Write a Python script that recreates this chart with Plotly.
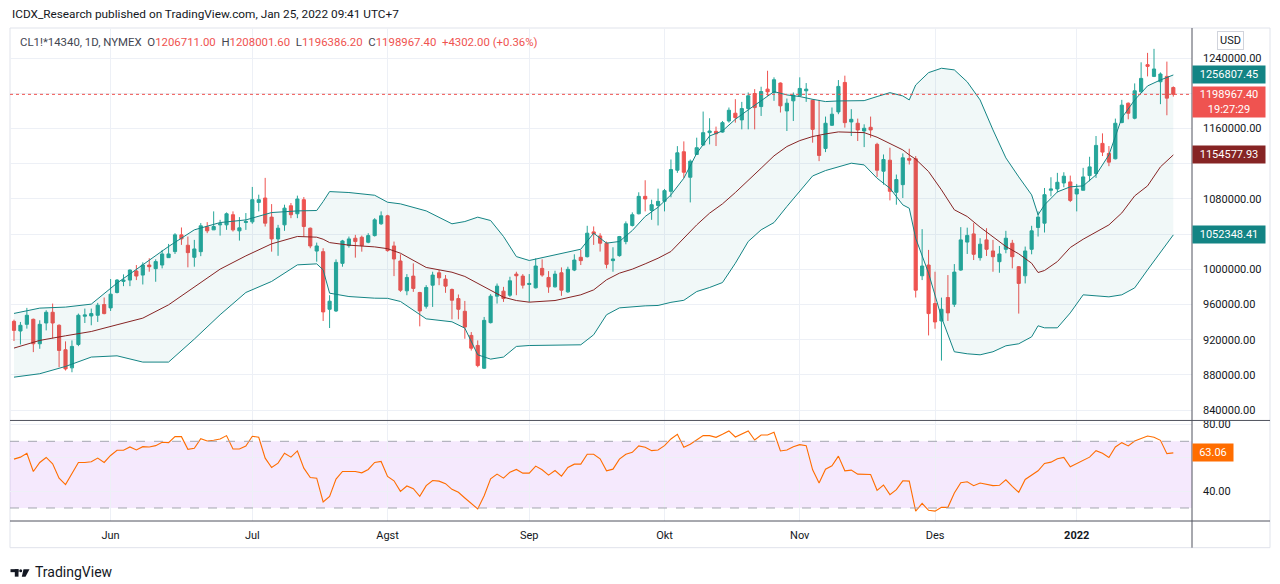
import pandas as pd
import plotly.graph_objects as go

# Hari bursa NYMEX (hari libur AS tidak punya candle)
libur = ['2021-05-31', '2021-07-05', '2021-09-06', '2021-11-25', '2021-12-24', '2022-01-17']
tanggal = pd.bdate_range('2021-05-10', '2022-01-25', freq='C', holidays=libur).strftime('%Y-%m-%d').tolist()

bulan_tick = ['2021-06-01', '2021-07-01', '2021-08-02', '2021-09-01',
              '2021-10-01', '2021-11-01', '2021-12-01', '2022-01-03']
bulan_label = ['Jun', 'Jul', 'Agst', 'Sep', 'Okt', 'Nov', 'Des', '<b>2022</b>']

# label harga di sumbu kanan (yang tertutup kotak label dikosongkan)
harga_tick = [840000, 880000, 920000, 960000, 1000000, 1040000, 1080000, 1120000, 1160000, 1200000, 1240000]
harga_teks = ['840000.00', '880000.00', '920000.00', '960000.00', '1000000.00', '',
              '1080000.00', '', '1160000.00', '', '1240000.00']

# OHLC harian CL1! * 14340
harga_open = [
    940900, 929900, 937500, 943200, 915400, 939000, 951200, 936400, 908600, 888000,
    914600, 946700, 947000, 947800, 960000, 956200, 973700, 986300, 987800, 998100,
    993500, 1004900, 1000800, 1004900, 1013300, 1020200, 1039200, 1027400, 1013700, 1020100,
    1048300, 1044900, 1050600, 1050600, 1062100, 1043800, 1053300, 1054000, 1076100, 1081100,
    1059400, 1034600, 1050600, 1072300, 1063200, 1079200, 1046800, 1020800, 1020100, 954600,
    952700, 1006800, 1027000, 1035400, 1036500, 1030800, 1038400, 1051800, 1060900, 1026600,
    1009500, 975600, 992300, 973700, 958000, 982000, 996100, 988900, 977100, 966800,
    952300, 924900, 913500, 887600, 939400, 969500, 975200, 970600, 994600, 992300,
    982800, 979000, 1001100, 990800, 980100, 996100, 974400, 999200, 1013700, 1014400,
    1042600, 1038000, 1029700, 1009900, 1015600, 1031600, 1049900, 1063200, 1083000, 1067000,
    1072700, 1077300, 1088700, 1112700, 1133700, 1104700, 1130600, 1141300, 1155400, 1156900,
    1156100, 1168700, 1177500, 1169900, 1182800, 1199900, 1185100, 1204900, 1201100, 1211800,
    1180100, 1191600, 1197300, 1203000, 1192300, 1151600, 1137500, 1163800, 1179000, 1212500,
    1167600, 1166100, 1157300, 1161500, 1142100, 1111600, 1124100, 1087600, 1096300, 1126100,
    1125700, 992700, 1004900, 961100, 941300, 968000, 960300, 999200, 1031000, 1040300,
    1013300, 1033500, 1020900, 1008700, 1022800, 1029700, 1003000, 992700, 1022800, 1047600,
    1052500, 1089900, 1091400, 1098200, 1099400, 1085700, 1089900, 1106600, 1108900, 1143200,
    1131800, 1125700, 1166900, 1188900, 1171800, 1201800, 1232700, 1219400, 1213300, 1219400,
    1206711.00]
harga_high = [
    942800, 940200, 956200, 944000, 942100, 953500, 961100, 937500, 918100, 919200,
    949700, 955400, 955400, 961900, 968000, 989000, 989000, 994300, 1000000, 1004900,
    1008000, 1012600, 1011400, 1022100, 1028900, 1041100, 1047600, 1037300, 1033500, 1052600,
    1053700, 1065900, 1056300, 1064700, 1065900, 1059400, 1064000, 1093700, 1084900, 1104000,
    1074200, 1050600, 1073500, 1075400, 1083800, 1082200, 1047500, 1030400, 1024000, 970600,
    1011300, 1033500, 1037300, 1039200, 1038400, 1041100, 1058200, 1065900, 1062000, 1031600,
    1017100, 994600, 1006800, 974400, 982000, 997300, 999200, 993500, 978200, 971400,
    964100, 928700, 919200, 945900, 971800, 983900, 980100, 991600, 997300, 994600,
    994600, 1012500, 1011400, 998000, 998400, 1002200, 1003000, 1017100, 1022100, 1049500,
    1048800, 1041100, 1031600, 1025100, 1038000, 1054500, 1064800, 1087600, 1101300, 1079200,
    1091800, 1091400, 1124900, 1140100, 1145500, 1124900, 1149700, 1179400, 1171800, 1162300,
    1168700, 1184000, 1193500, 1190400, 1201100, 1204900, 1207600, 1225800, 1218300, 1212500,
    1194200, 1201100, 1218300, 1211800, 1193500, 1192700, 1173700, 1184000, 1215200, 1220200,
    1182100, 1171400, 1164900, 1173700, 1143900, 1130600, 1138300, 1107800, 1131800, 1137100,
    1128700, 1045700, 1022100, 997300, 967900, 993500, 1006000, 1048000, 1047400, 1052600,
    1035400, 1046800, 1033500, 1026600, 1043800, 1033500, 1003800, 1025900, 1049500, 1065900,
    1092500, 1104700, 1109700, 1110400, 1106600, 1097100, 1115400, 1128000, 1151600, 1154600,
    1140200, 1171400, 1192700, 1189700, 1211400, 1235400, 1246100, 1250700, 1223900, 1236200,
    1208001.60]
harga_low = [
    918500, 914600, 932600, 905900, 909700, 930600, 921500, 888700, 885000, 883000,
    912700, 939000, 936400, 940200, 948900, 952700, 972600, 980900, 980900, 987800,
    982800, 997300, 985900, 1001100, 1013300, 1017500, 1027800, 1002300, 1003000, 1015000,
    1041100, 1044900, 1038400, 1044900, 1043000, 1032700, 1044900, 1051800, 1065900, 1048700,
    1020100, 1015400, 1043800, 1058200, 1058200, 1037300, 1024000, 1008700, 941300, 933300,
    951500, 1003000, 1024700, 1013300, 1020100, 1029700, 1037300, 1050600, 1020100, 992300,
    974400, 970600, 974400, 935200, 955400, 957300, 982000, 973300, 943200, 943200,
    921100, 907700, 888700, 886800, 938500, 961100, 963000, 968700, 970600, 978200,
    963000, 978200, 991600, 973300, 979400, 969900, 973300, 998000, 1004900, 1013500,
    1027800, 1020200, 1001100, 997300, 1014400, 1028500, 1048700, 1062500, 1065900, 1056300,
    1049900, 1065900, 1081900, 1109700, 1104000, 1076100, 1130000, 1140500, 1142100, 1140200,
    1155400, 1166800, 1166800, 1159200, 1159200, 1159200, 1174400, 1197300, 1191600, 1178300,
    1157300, 1168700, 1196500, 1190400, 1144000, 1123000, 1133300, 1163000, 1176400, 1161100,
    1151600, 1145900, 1139000, 1149700, 1105100, 1096300, 1078400, 1073500, 1081100, 1119200,
    968000, 987800, 924900, 932500, 896300, 941300, 957300, 998400, 1017500, 1010600,
    1009900, 1015200, 997300, 996100, 1018300, 1001100, 949700, 984000, 1017100, 1037300,
    1041900, 1083000, 1087600, 1093300, 1076500, 1065900, 1089900, 1100100, 1104000, 1128800,
    1117300, 1125000, 1166100, 1170600, 1170600, 1201000, 1219400, 1218600, 1187800, 1175200,
    1196386.20]
harga_close = [
    930600, 936400, 947800, 915400, 937500, 951200, 939000, 907800, 886800, 912400,
    947800, 948200, 949700, 959200, 949700, 971800, 987800, 987800, 999200, 992400,
    1004900, 1003000, 1008800, 1017500, 1017500, 1039200, 1034700, 1019000, 1023200, 1049500,
    1043800, 1048700, 1051800, 1063200, 1044900, 1047200, 1054400, 1079200, 1079200, 1052500,
    1034600, 1046800, 1069600, 1062100, 1080000, 1048700, 1026600, 1026600, 951600, 963800,
    1007900, 1032300, 1034600, 1031600, 1027000, 1038400, 1056300, 1060900, 1021300, 1011800,
    976300, 990800, 978300, 952700, 979400, 993500, 990400, 980900, 964900, 954600,
    934400, 910400, 890600, 942000, 969500, 980900, 966800, 987000, 992700, 982000,
    984000, 1003800, 993500, 980100, 994600, 976300, 1000000, 1010600, 1009900, 1041100,
    1040300, 1029700, 1005700, 1011800, 1037300, 1051800, 1062100, 1083000, 1080000, 1073500,
    1077300, 1089500, 1113500, 1132500, 1110400, 1123000, 1138300, 1155400, 1157300, 1154200,
    1166800, 1180900, 1172500, 1182800, 1197300, 1183900, 1202200, 1201800, 1215600, 1185900,
    1188900, 1198000, 1205700, 1204900, 1159200, 1129500, 1166100, 1176400, 1208000, 1166800,
    1170600, 1158500, 1160400, 1158500, 1112700, 1124900, 1088700, 1102100, 1126800, 1124100,
    976300, 1003800, 949700, 940200, 954600, 950500, 996900, 1033500, 1038600, 1017100,
    1028600, 1022800, 1014400, 1017500, 1035400, 1014400, 984000, 1020900, 1043800, 1059400,
    1084900, 1091400, 1099000, 1105900, 1078400, 1091400, 1105100, 1116500, 1140900, 1133300,
    1121900, 1166100, 1186700, 1177500, 1203000, 1217100, 1230800, 1227800, 1222100, 1194665,
    1198967.40]

# Bollinger Bands (20, 2) dibaca dari grafik pada candle tertentu (skala sendiri)
bb_titik = [0, 4, 8, 12, 16, 20, 24, 28, 32, 36, 40, 44, 47, 48, 49, 52, 56, 58, 60,
            64, 68, 70, 72, 74, 76, 78, 80, 84, 88, 90, 92, 94, 96, 98, 100, 102, 104,
            106, 108, 110, 112, 114, 116, 118, 120, 122, 124, 126, 128, 130, 132, 134,
            136, 138, 139, 140, 142, 144, 146, 148, 150, 152, 154, 156, 158, 159, 160,
            162, 164, 166, 168, 170, 172, 174, 176, 178, 180]
bb_atas = [951900, 958700, 960000, 963800, 990700, 1014000, 1037500, 1058800, 1068100,
           1071500, 1080900, 1083000, 1083500, 1095000, 1107700, 1106500, 1103000, 1094100,
           1092000, 1083000, 1066500, 1069400, 1075000, 1070700, 1050300, 1024600, 1019600,
           1026800, 1034000, 1054500, 1041800, 1043900, 1057900, 1075900, 1087700, 1103500,
           1124800, 1156700, 1178800, 1185300, 1200200, 1212200, 1224000, 1235500, 1231300,
           1229200, 1225700, 1222800, 1223600, 1224000, 1224000, 1229200, 1234200, 1230000,
           1224900, 1244000, 1259800, 1265400, 1263300, 1248000, 1224900, 1186600, 1150800,
           1126500, 1103500, 1078000, 1090700, 1107300, 1113800, 1115000, 1129100, 1154600,
           1201900, 1224900, 1242800, 1250400, 1256807.45]
bb_tengah = [907600, 917400, 923300, 928800, 937400, 945900, 962900, 986200, 1008500,
             1025500, 1040900, 1050300, 1049400, 1046800, 1042500, 1039200, 1037000, 1034700,
             1028900, 1010700, 1004600, 999200, 990700, 982000, 972700, 968400, 966300,
             968400, 975700, 982000, 994900, 1003400, 1008500, 1015300, 1022500, 1031100,
             1048100, 1065100, 1080100, 1092000, 1106500, 1122600, 1137600, 1153400, 1165300,
             1172900, 1178100, 1181400, 1184000, 1183500, 1183100, 1177200, 1169600, 1161000,
             1154600, 1149100, 1133300, 1109900, 1084400, 1075800, 1062200, 1049500, 1037500,
             1028100, 1016100, 1004200, 1006800, 1018200, 1036200, 1046800, 1056200, 1065100,
             1080400, 1102200, 1115000, 1139300, 1154577.93]
bb_bawah = [870400, 874800, 884100, 896100, 897700, 889700, 889700, 919100, 950200,
            978700, 992800, 1014000, 1015300, 1007600, 977800, 973500, 971400, 971200,
            967200, 945000, 941200, 933100, 899000, 893500, 896100, 909700, 910900,
            910900, 911800, 924600, 950200, 959000, 960400, 961600, 962100, 966100,
            968700, 979900, 985100, 991400, 1016100, 1043900, 1058800, 1068100, 1088600,
            1107700, 1127700, 1134600, 1139700, 1144000, 1141800, 1124800, 1112000, 1090700,
            1086400, 1048000, 1003400, 947000, 902900, 900300, 899000, 902900, 910500,
            913100, 922000, 936100, 933500, 933500, 952600, 975700, 974400, 973100,
            975700, 984600, 1007600, 1030700, 1052348.41]

# RSI (14)
rsi = [59.3, 60.5, 62.8, 51.9, 57.3, 60.3, 56.5, 47.9, 44.0, 50.9,
       57.3, 57.3, 57.7, 59.9, 57.3, 61.5, 64.6, 64.6, 66.6, 64.8,
       66.8, 66.6, 67.4, 69.4, 69.2, 72.8, 72.8, 65.2, 65.8, 71.6,
       70.2, 70.6, 71.4, 73.4, 65.4, 65.4, 67.2, 73.0, 72.4, 59.9,
       54.3, 56.9, 62.8, 60.5, 64.2, 53.9, 48.3, 47.9, 33.6, 37.0,
       47.3, 51.9, 52.1, 51.9, 51.1, 53.1, 57.3, 57.9, 48.9, 46.3,
       40.0, 43.2, 41.6, 37.0, 43.4, 46.5, 46.1, 44.6, 41.2, 39.4,
       36.0, 32.4, 29.4, 37.4, 47.5, 50.3, 47.9, 51.5, 53.1, 50.9,
       50.9, 55.1, 52.9, 49.7, 52.5, 49.1, 54.3, 56.3, 56.3, 62.2,
       62.2, 59.5, 52.3, 53.3, 59.3, 62.2, 63.4, 67.2, 66.4, 64.4,
       64.8, 67.4, 71.4, 74.2, 66.4, 68.2, 70.8, 73.4, 73.4, 72.4,
       74.2, 76.2, 72.6, 74.4, 76.2, 70.8, 73.8, 73.8, 75.4, 64.2,
       64.8, 66.8, 68.0, 67.4, 52.9, 45.0, 53.3, 55.3, 61.1, 52.3,
       52.7, 50.3, 50.3, 50.1, 40.6, 43.8, 38.0, 41.0, 46.3, 46.1,
       28.1, 32.8, 28.6, 28.1, 30.4, 30.4, 39.0, 45.1, 45.7, 43.4,
       45.0, 44.0, 43.4, 43.6, 46.9, 43.0, 39.4, 47.1, 49.9, 52.3,
       56.7, 57.5, 59.5, 60.3, 54.7, 56.7, 58.9, 60.5, 64.4, 62.8,
       60.3, 66.6, 69.2, 67.2, 70.2, 71.8, 73.2, 72.4, 70.6, 62.6,
       63.06]

HIJAU = '#26a69a'
MERAH = '#ef5350'
TEAL = '#138484'
MARUN = '#862424'
ORANYE = '#ff6d00'
GRID = '#edf0f6'
GARIS = '#50535e'
FONT = 'Roboto'

# halaman html punya margin body 8px, jadi semua posisi layar digeser 8px
GESER = 8


def kx(px):
    return (px - 10) / 1182


def ky(py):
    return (521.3 - py) / 493.3


bb_x = [tanggal[i] for i in bb_titik]

fig = go.Figure()

fig.add_trace(go.Candlestick(
    x=tanggal, open=harga_open, high=harga_high, low=harga_low, close=harga_close,
    increasing=dict(line=dict(color=HIJAU, width=1), fillcolor=HIJAU),
    decreasing=dict(line=dict(color=MERAH, width=1), fillcolor=MERAH),
    whiskerwidth=0, yaxis='y', hoverinfo='skip'))

fig.add_trace(go.Scatter(x=bb_x, y=bb_atas, mode='lines', yaxis='y3',
                         line=dict(color=TEAL, width=1), hoverinfo='skip'))
fig.add_trace(go.Scatter(x=bb_x, y=bb_bawah, mode='lines', yaxis='y3', fill='tonexty',
                         fillcolor='rgba(0,128,128,0.055)',
                         line=dict(color=TEAL, width=1), hoverinfo='skip'))
fig.add_trace(go.Scatter(x=bb_x, y=bb_tengah, mode='lines', yaxis='y3',
                         line=dict(color=MARUN, width=1), hoverinfo='skip'))

fig.add_trace(go.Scatter(x=tanggal, y=rsi, mode='lines', yaxis='y2',
                         line=dict(color=ORANYE, width=1.1), hoverinfo='skip'))

sumbu_y = dict(side='right', anchor='x', showline=False, zeroline=False, ticks='',
               gridcolor=GRID, gridwidth=1, ticklabelstandoff=10,
               tickfont=dict(family=FONT, size=11, color='#131722'))

fig.update_layout(
    width=1280 - GESER, height=584 - GESER,
    margin=dict(l=10 - GESER, r=88, t=28 - GESER, b=63),
    paper_bgcolor='white', plot_bgcolor='white',
    showlegend=False,
    font=dict(family=FONT, color='#131722'),
    xaxis=dict(type='category', categoryorder='array', categoryarray=tanggal,
               domain=[0, 1], anchor='y2', range=[-0.62, 182.9],
               tickvals=bulan_tick, ticktext=bulan_label, ticks='',
               showgrid=True, gridcolor=GRID, showline=False, zeroline=False,
               ticklabelstandoff=6, tickfont=dict(family=FONT, size=11, color='#131722'),
               rangeslider=dict(visible=False)),
    yaxis=dict(domain=[ky(420.7), 1], range=[828200, 1274400],
               tickvals=harga_tick, ticktext=harga_teks, **sumbu_y),
    yaxis2=dict(domain=[0, ky(420.7)], range=[22.2, 82.5],
                tickvals=[40, 60, 80], ticktext=['40.00', '', '80.00'], **sumbu_y),
    yaxis3=dict(overlaying='y', anchor='x', range=[815050, 1316870], visible=False),
)

garis = [
    # bingkai luar
    dict(type='rect', xref='paper', yref='paper', x0=0, x1=kx(1270), y0=ky(548), y1=1,
         line=dict(color='#e0e3eb', width=1), layer='below'),
    # area RSI 30-70
    dict(type='rect', xref='paper', yref='y2', x0=0, x1=1, y0=30, y1=70,
         fillcolor='rgba(170,70,240,0.12)', line=dict(width=0), layer='below'),
    dict(type='line', xref='paper', yref='y2', x0=0, x1=1, y0=70, y1=70,
         line=dict(color='#a3a6af', width=1, dash='dash')),
    dict(type='line', xref='paper', yref='y2', x0=0, x1=1, y0=30, y1=30,
         line=dict(color='#a3a6af', width=1, dash='dash')),
    # garis harga terakhir
    dict(type='line', xref='paper', yref='y', x0=0, x1=1, y0=harga_close[-1], y1=harga_close[-1],
         line=dict(color=MERAH, width=1, dash='dot')),
    # pemisah panel dan sumbu
    dict(type='line', xref='paper', yref='paper', x0=0, x1=kx(1270), y0=ky(420.7), y1=ky(420.7),
         line=dict(color=GARIS, width=1)),
    dict(type='line', xref='paper', yref='paper', x0=0, x1=kx(1270), y0=0, y1=0,
         line=dict(color=GARIS, width=1)),
    dict(type='line', xref='paper', yref='paper', x0=1, x1=1, y0=ky(548), y1=1,
         line=dict(color=GARIS, width=1)),
    # logo TradingView
    dict(type='rect', xref='paper', yref='paper', x0=kx(10.5), x1=kx(18.5), y0=ky(572.5), y1=ky(569.5),
         fillcolor='#131722', line=dict(width=0)),
    dict(type='rect', xref='paper', yref='paper', x0=kx(14.8), x1=kx(18.5), y0=ky(577), y1=ky(569.5),
         fillcolor='#131722', line=dict(width=0)),
    dict(type='circle', xref='paper', yref='paper', x0=kx(19.2), x1=kx(22.2), y0=ky(572.5), y1=ky(569.5),
         fillcolor='#131722', line=dict(width=0)),
    dict(type='path', xref='paper', yref='paper',
         path=f'M {kx(23.5)},{ky(569.5)} L {kx(29.5)},{ky(569.5)} L {kx(25.5)},{ky(577)} L {kx(21.8)},{ky(577)} Z',
         fillcolor='#131722', line=dict(width=0)),
]
fig.update_layout(shapes=garis)

abu = '#434651'
legenda = (
    f'<span style="color:{abu}">CL1!*14340, 1D, NYMEX</span>&nbsp;&nbsp;'
    f'<span style="color:{abu}">O</span><span style="color:{MERAH}">{harga_open[-1]:.2f}</span>&nbsp;&nbsp;'
    f'<span style="color:{abu}">H</span><span style="color:{MERAH}">{harga_high[-1]:.2f}</span>&nbsp;&nbsp;'
    f'<span style="color:{abu}">L</span><span style="color:{MERAH}">{harga_low[-1]:.2f}</span>&nbsp;&nbsp;'
    f'<span style="color:{abu}">C</span><span style="color:{MERAH}">{harga_close[-1]:.2f}</span>&nbsp;&nbsp;'
    f'<span style="color:{MERAH}">+4302.00 (+0.36%)</span>'
)

label = dict(xref='paper', x=1, xanchor='left', showarrow=False, width=70, height=15,
             borderpad=1, align='center', font=dict(family=FONT, size=11, color='white'))

catatan = [
    dict(xref='paper', yref='paper', x=0, y=ky(14), xanchor='left', yanchor='middle',
         text='ICDX_Research published on TradingView.com, Jan 25, 2022 09:41 UTC+7',
         showarrow=False, font=dict(family=FONT, size=11.8, color='#131722')),
    dict(xref='paper', yref='paper', x=kx(18), y=ky(42), xanchor='left', yanchor='middle',
         text=legenda, showarrow=False, font=dict(family=FONT, size=11.4)),
    dict(xref='paper', yref='paper', x=kx(1230.5), y=ky(41), xanchor='center', yanchor='middle',
         text='USD', showarrow=False, bordercolor='#d1d4dc', borderwidth=1, borderpad=2,
         font=dict(family=FONT, size=11, color='#131722')),
    dict(xref='paper', yref='paper', x=kx(33), y=ky(572), xanchor='left', yanchor='middle',
         text='TradingView', showarrow=False, font=dict(family=FONT, size=14, color='#131722')),
    dict(label, yref='y3', y=bb_atas[-1], text=f'{bb_atas[-1]:.2f}', bgcolor=TEAL),
    dict(label, yref='y3', y=bb_tengah[-1], text=f'{bb_tengah[-1]:.2f}', bgcolor=MARUN),
    dict(label, yref='y3', y=bb_bawah[-1], text=f'{bb_bawah[-1]:.2f}', bgcolor=TEAL),
    dict(label, yref='y', y=harga_close[-1], yanchor='top', yshift=8, height=28,
         text=f'{harga_close[-1]:.2f}<br>19:27:29', bgcolor=MERAH),
    dict(label, yref='y2', y=rsi[-1], width=38, text=f'{rsi[-1]:.2f}', bgcolor=ORANYE),
]
fig.update_layout(annotations=catatan)

fig.write_html("out.html")
